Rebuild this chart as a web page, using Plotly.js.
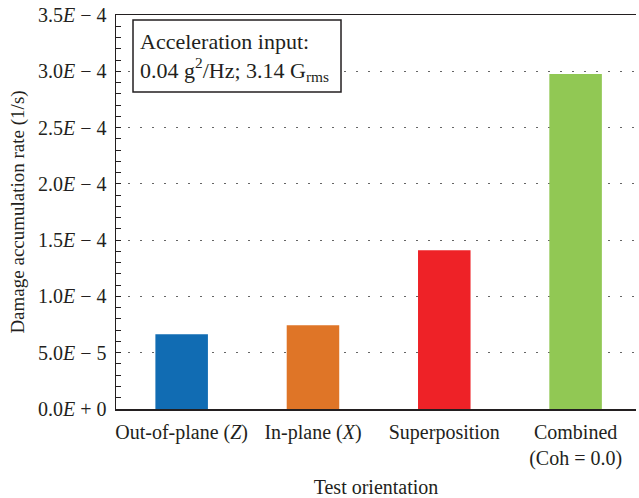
<!DOCTYPE html>
<html>
<head>
<meta charset="utf-8">
<script src="https://cdn.plot.ly/plotly-3.0.1.min.js"></script>
<style>html,body{margin:0;padding:0;background:#fff;}#chart{width:639px;height:498px;}</style>
</head>
<body>
<div id="chart"></div>
<script>
var categories = ["Out-of-plane (<i>Z</i>)", "In-plane (<i>X</i>)", "Superposition", "Combined<br>(Coh = 0.0)"];
var values = [6.65e-5, 7.45e-5, 1.41e-4, 2.975e-4];
var barColors = ["#116cb3", "#df7527", "#ee2227", "#91c854"];
var yTickVals = [0, 5e-5, 1e-4, 1.5e-4, 2e-4, 2.5e-4, 3e-4, 3.5e-4];
var yTickText = ["0.0<i>E</i> + 0", "5.0<i>E</i> − 5", "1.0<i>E</i> − 4", "1.5<i>E</i> − 4", "2.0<i>E</i> − 4", "2.5<i>E</i> − 4", "3.0<i>E</i> − 4", "3.5<i>E</i> − 4"];
var noteText = "Acceleration input:<br>0.04 g<sup>2</sup>/Hz; 3.14 G<sub>rms</sub>";

var fam = "Liberation Serif, Times New Roman, serif";
var font = {family: fam, size: 20, color: "#231f20"};

var trace = {
  type: "bar",
  x: [0, 1, 2, 3],
  y: values,
  marker: {color: barColors, line: {width: 0}},
  width: 0.4,
  hoverinfo: "skip"
};

var layout = {
  width: 639, height: 498,
  margin: {l: 116, r: 3, t: 15, b: 89},
  paper_bgcolor: "#fff", plot_bgcolor: "#fff",
  font: font,
  showlegend: false,
  xaxis: {
    range: [-0.5, 3.46],
    tickvals: [0, 1, 2, 3],
    ticktext: categories,
    ticks: "",
    showgrid: false,
    zeroline: false,
    showline: true, linecolor: "#231f20", linewidth: 1.5,
    mirror: true,
    ticklabelstandoff: 4,
    tickfont: font,
    title: {text: "Test orientation", font: font, standoff: 12}
  },
  yaxis: {
    range: [0, 3.5e-4],
    tickvals: yTickVals,
    ticktext: yTickText,
    ticks: "inside", ticklen: 5, tickwidth: 1, tickcolor: "#231f20",
    minor: {dtick: 1e-5, ticks: "inside", ticklen: 5, tickwidth: 1, tickcolor: "#231f20", showgrid: false},
    showgrid: true, gridcolor: "#666", gridwidth: 1, griddash: "2px,10px",
    zeroline: false,
    showline: true, linecolor: "#231f20", linewidth: 1.5,
    ticklabelstandoff: 4,
    tickfont: font,
    title: {text: "Damage accumulation rate (1/s)", font: {family: fam, size: 19, color: "#231f20"}, standoff: 8}
  },
  shapes: [{
    type: "rect", xref: "paper", yref: "paper",
    x0: 0.0327, x1: 0.4327, y0: 0.8046, y1: 0.9873,
    line: {color: "#231f20", width: 1.5}, fillcolor: "#fff", layer: "above"
  }],
  annotations: [{
    xref: "paper", yref: "paper",
    x: 0.042, y: 0.970, xanchor: "left", yanchor: "top",
    text: noteText, align: "left", showarrow: false,
    font: {family: fam, size: 22, color: "#231f20"}
  }]
};

Plotly.newPlot("chart", [trace], layout, {staticPlot: true, displayModeBar: false});
</script>
</body>
</html>
